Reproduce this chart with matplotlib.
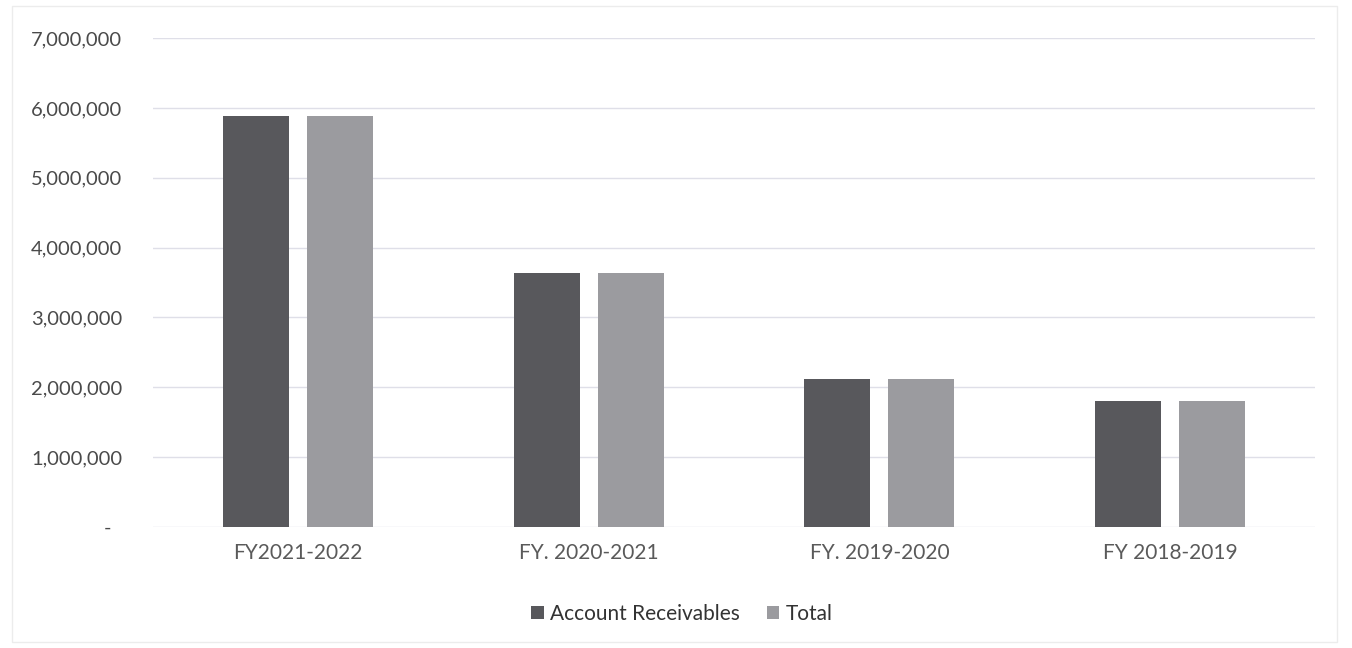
import matplotlib.pyplot as plt
import numpy as np
from matplotlib.patches import Rectangle

categories = ["FY2021-2022", "FY. 2020-2021", "FY. 2019-2020", "FY 2018-2019"]
account_receivables = [5880000, 3640000, 2120000, 1800000]
total = [5880000, 3640000, 2120000, 1800000]
series_names = ["Account Receivables", "Total"]
y_ticks = [0, 1000000, 2000000, 3000000, 4000000, 5000000, 6000000, 7000000]
y_tick_labels = ["-  ", "1,000,000", "2,000,000", "3,000,000", "4,000,000",
                 "5,000,000", "6,000,000", "7,000,000"]

plt.rcParams["font.family"] = ["Lato", "DejaVu Sans"]

fig = plt.figure(figsize=(13.52, 6.48), dpi=100)
ax = fig.add_axes([0.113, 0.187, 0.86, 0.754])

x = np.arange(len(categories))
width = 0.227
gap = 0.062
ax.bar(x - (width + gap) / 2, account_receivables, width, color="#58585c",
       label=series_names[0], zorder=3)
ax.bar(x + (width + gap) / 2, total, width, color="#9b9b9f",
       label=series_names[1], zorder=3)

ax.set_xlim(-0.5, len(categories) - 0.5)
ax.set_ylim(0, 7000000)
ax.set_yticks(y_ticks)
ax.set_yticklabels(y_tick_labels)
ax.set_xticks(x)
ax.set_xticklabels(categories)
ax.tick_params(axis="y", length=0, labelsize=14.5, colors="#4a4a4a", pad=22)
ax.tick_params(axis="x", length=0, labelsize=15, colors="#5a5a5a", pad=12)
ax.grid(axis="y", color="#dfdfe8", linewidth=1, zorder=0)
for spine in ax.spines.values():
    spine.set_visible(False)

ax.legend(loc="upper center", bbox_to_anchor=(0.455, -0.12), ncol=2,
          frameon=False, fontsize=15, handlelength=0.6, handleheight=0.6,
          columnspacing=1.3, handletextpad=0.3, labelcolor="#333333")

# faint chart border
fig.patches.append(Rectangle((0.009, 0.01), 0.98, 0.98, transform=fig.transFigure,
                             fill=False, edgecolor="#ececec", linewidth=1))

fig.savefig("out.png", dpi=100)
